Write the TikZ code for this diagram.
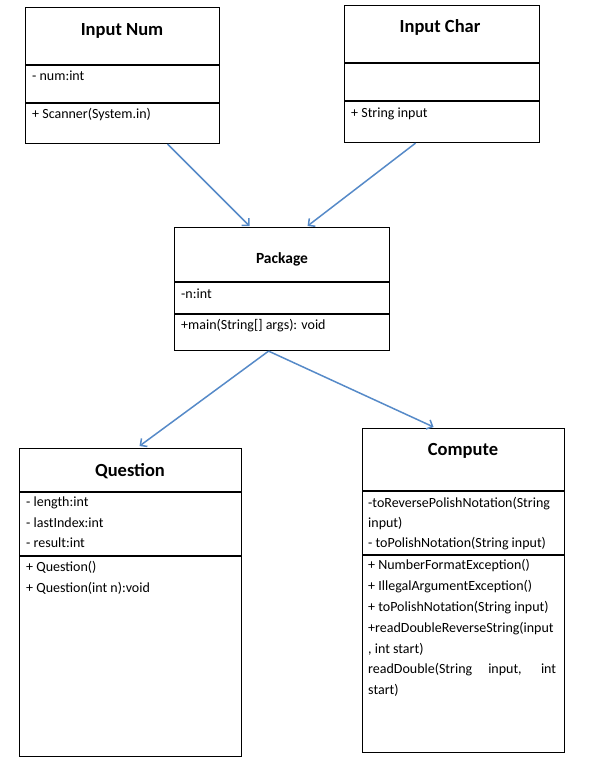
\documentclass[tikz,border=0pt]{standalone}
\usepackage{fontspec}
\setmainfont{Carlito}
\usetikzlibrary{arrows.meta}
\definecolor{arrblue}{RGB}{86,138,200}
\tikzset{
  classbox/.style={draw=black, line width=1.1pt, anchor=north west, inner sep=0pt, fill=white},
  divider/.style={draw=black, line width=1.1pt},
  ttl/.style={anchor=base, inner sep=0pt, font=\fontsize{18.5}{20}\selectfont\bfseries},
  ttlsmall/.style={anchor=base, inner sep=0pt, font=\fontsize{15.5}{17}\selectfont\bfseries},
  item/.style={anchor=base west, inner sep=0pt, font=\fontsize{14}{16}\selectfont},
  arr/.style={draw=arrblue, line width=1.5pt, -{Straight Barb[length=5pt,width=10pt,line width=1.5pt]}}
}
\begin{document}
\begin{tikzpicture}[x=1pt,y=-1pt]
\useasboundingbox (0,0) rectangle (599,761);

% Input Num
\node[classbox, minimum width=194pt, minimum height=136pt] (num) at (25,7) {};
\draw[divider] (num.west |- 0,65) -- (num.east |- 0,65);
\draw[divider] (num.west |- 0,103) -- (num.east |- 0,103);
\node[ttl] (numT) at (122,35) {Input Num};
\node[item] (numA) at (32,80) {- num:int};
\node[item] (numB) at (32,118) {+ Scanner(System.in)};

% Input Char
\node[classbox, minimum width=195pt, minimum height=137pt] (chr) at (344,5) {};
\draw[divider] (chr.west |- 0,63) -- (chr.east |- 0,63);
\draw[divider] (chr.west |- 0,101) -- (chr.east |- 0,101);
\node[ttl] (chrT) at (440,32) {Input Char};
\node[item] (chrB) at (351,117) {+ String input};

% Package
\node[classbox, minimum width=215pt, minimum height=123pt] (pkg) at (174,227) {};
\draw[divider] (pkg.west |- 0,282) -- (pkg.east |- 0,282);
\draw[divider] (pkg.west |- 0,314) -- (pkg.east |- 0,314);
\node[ttlsmall] (pkgT) at (282,263) {Package};
\node[item] (pkgA) at (181,298) {-n:int};
\node[item] (pkgB) at (181,329) {+main(String[] args): void};

% Question
\node[classbox, minimum width=222pt, minimum height=308pt] (q) at (19,448) {};
\draw[divider] (q.west |- 0,492) -- (q.east |- 0,492);
\draw[divider] (q.west |- 0,556) -- (q.east |- 0,556);
\node[ttl] (qT) at (130,476) {Question};
\node[item] (qA) at (26,506) {- length:int};
\node[item] (qB) at (26,527) {- lastIndex:int};
\node[item] (qC) at (26,547) {- result:int};
\node[item] (qD) at (26,571) {+ Question()};
\node[item] (qE) at (26,592) {+ Question(int n):void};

% Compute
\node[classbox, minimum width=202pt, minimum height=324pt] (cmp) at (362,428) {};
\draw[divider] (cmp.west |- 0,491) -- (cmp.east |- 0,491);
\draw[divider] (cmp.west |- 0,555) -- (cmp.east |- 0,555);
\node[ttl] (cmpT) at (463,455) {Compute};
\node[item] (cA) at (368,507) {-toReversePolishNotation(String};
\node[item] (cB) at (368,527) {input)};
\node[item] (cC) at (368,547) {- toPolishNotation(String input)};
\node[item] (cD) at (368,569) {+ NumberFormatException()};
\node[item] (cE) at (368,590) {+ IllegalArgumentException()};
\node[item] (cF) at (368,611) {+ toPolishNotation(String input)};
\node[item] (cG) at (368,632) {+readDoubleReverseString(input};
\node[item] (cH) at (368,653) {, int start)};
\node[item] (cI) at (368,673) {\makebox[188pt][s]{readDouble(String input, int}};
\node[item] (cJ) at (368,694) {start)};

% Connectors
\draw[arr] ([xshift=45pt]num.south) -- ([xshift=-32.5pt,yshift=1pt]pkg.north);
\draw[arr] ([xshift=-26.5pt]chr.south) -- ([xshift=25.5pt,yshift=1pt]pkg.north);
\draw[arr] ([xshift=-13.5pt]pkg.south) -- ([xshift=9pt,yshift=2pt]q.north);
\draw[arr] ([xshift=-13.5pt]pkg.south) -- ([xshift=-30pt,yshift=1pt]cmp.north);
\end{tikzpicture}
\end{document}
